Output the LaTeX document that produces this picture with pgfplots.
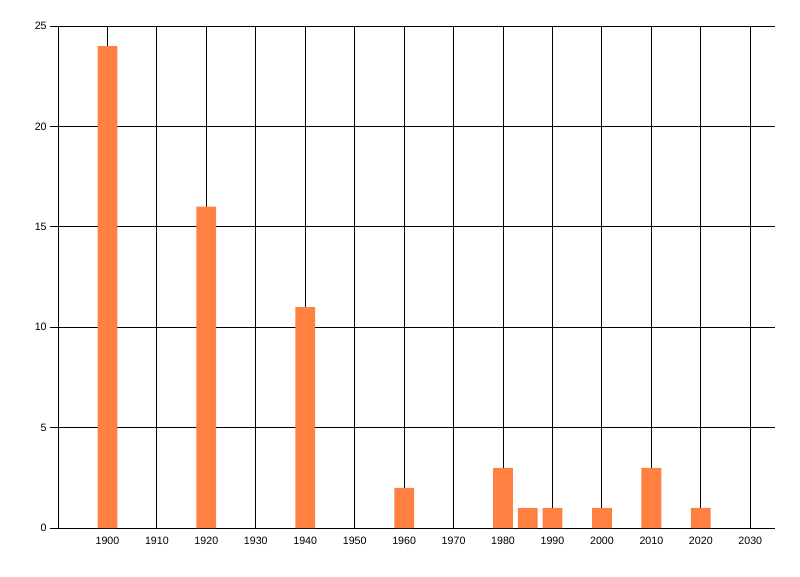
\documentclass[border=0pt]{standalone}
\usepackage{fontspec}
\setmainfont{Liberation Sans}
\usepackage{pgfplots}
\pgfplotsset{compat=1.18}
\definecolor{barorange}{HTML}{FF8040}
\begin{document}
\begin{tikzpicture}
\begin{axis}[
  name=ax,
  scale only axis,
  width=537.75pt, height=376.5pt,
  xmin=1890, xmax=2035,
  ymin=0, ymax=25,
  axis x line*=bottom, axis y line*=left,
  axis line style={black, line width=0.75pt, -},
  xtick={1900,1910,...,2030},
  ytick={0,5,...,25},
  grid=major,
  major grid style={black, line width=0.75pt},
  xtick style={draw=none},
  ytick style={black, line width=0.75pt},
  tick align=outside,
  major tick length=6pt,
  /pgf/number format/1000 sep={},
  /pgf/number format/assume math mode=true,
  tick label style={font=\fontsize{8}{9.6}\selectfont},
  yticklabel style={xshift=1pt},
  xticklabel style={yshift=2.5pt},
]
\addplot[ybar, bar width=4, fill=barorange, draw=none] coordinates {
  (1900,24) (1920,16) (1940,11) (1960,2) (1980,3)
  (1985,1) (1990,1) (2000,1) (2010,3) (2020,1)
};
\end{axis}
\path (ax.south west) ++(-43.5pt,-36pt) rectangle ++(600pt,432pt);
\end{tikzpicture}
\end{document}
